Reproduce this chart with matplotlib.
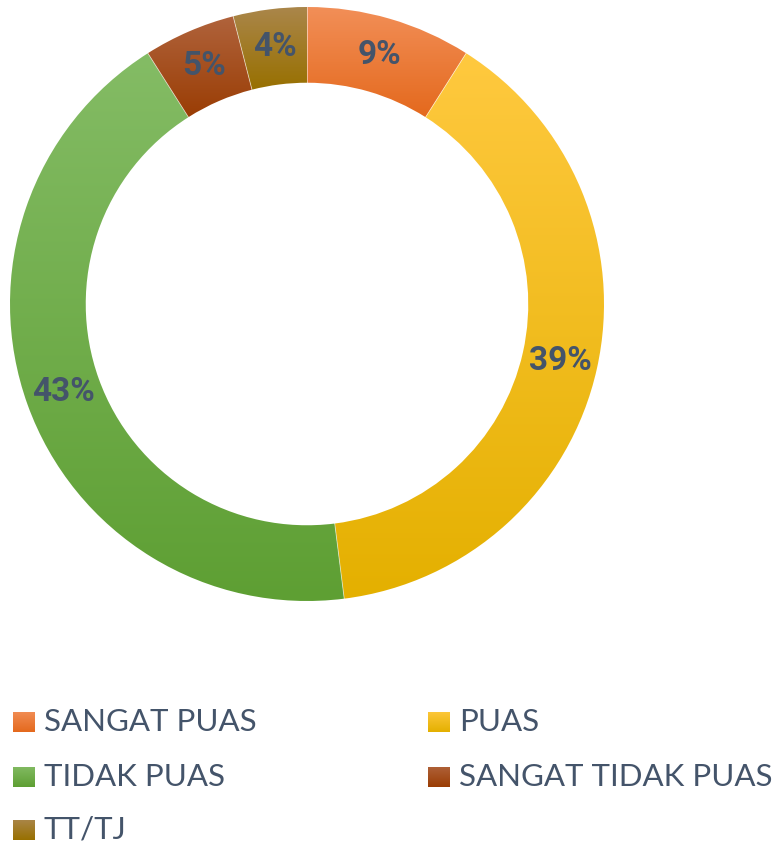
import numpy as np
import matplotlib.pyplot as plt
from matplotlib.patches import Wedge
from matplotlib.colors import LinearSegmentedColormap

labels = ['SANGAT PUAS', 'PUAS', 'TIDAK PUAS', 'SANGAT TIDAK PUAS', 'TT/TJ']
values = [9, 39, 43, 5, 4]
# gradient colours per slice: (top, bottom)
top_colors = ['#F28F58', '#FFC93F', '#84BC65', '#B0633C', '#AA864A']
bottom_colors = ['#E4691D', '#E4B000', '#5E9F33', '#9A3D04', '#987000']
text_color = '#44546A'

W, H = 779, 844
fig = plt.figure(figsize=(W / 100, H / 100), dpi=100)

# donut axes, square box
cx, cy, R = 307, 304, 297
ax = fig.add_axes([(cx - R) / W, 1 - (cy + R) / H, 2 * R / W, 2 * R / H])
ax.set_aspect('equal')
ax.axis('off')

inner = 0.745
width = 1 - inner
total = sum(values)
grad = np.linspace(0, 1, 256).reshape(-1, 1)
cmaps = [LinearSegmentedColormap.from_list('g%d' % i, [bottom_colors[i], top_colors[i]])
         for i in range(len(values))]

start = 90.0
for i, v in enumerate(values):
    span = 360.0 * v / total
    t2 = start
    t1 = start - span
    w = Wedge((0, 0), 1, t1, t2, width=width, facecolor='none', edgecolor='none')
    ax.add_patch(w)
    # bounding box of the ring segment for the gradient
    th = np.radians(np.linspace(t1, t2, 200))
    ys = np.concatenate([np.sin(th), inner * np.sin(th)])
    xs = np.concatenate([np.cos(th), inner * np.cos(th)])
    im = ax.imshow(grad, cmap=cmaps[i], origin='lower',
                   extent=[xs.min(), xs.max(), ys.min(), ys.max()],
                   aspect='auto', interpolation='bilinear', zorder=1)
    im.set_clip_path(w)
    # percentage label at middle of ring
    mid = np.radians((t1 + t2) / 2)
    r = (1 + inner) / 2
    ax.text(r * np.cos(mid), r * np.sin(mid), '%d%%' % v, ha='center', va='center',
            fontsize=24, fontweight='bold', color=text_color, family=['Roboto', 'DejaVu Sans'],
            zorder=3)
    start = t1

# thin white separators
start = 90.0
for v in values:
    th = np.radians(start)
    ax.plot([inner * np.cos(th), np.cos(th)], [inner * np.sin(th), np.sin(th)],
            color='white', lw=0.6, alpha=0.6, zorder=2)
    start -= 360.0 * v / total
ax.set_xlim(-1, 1)
ax.set_ylim(-1, 1)

# legend, two columns row by row
col_x = [13, 428]
row_y = [722, 777, 830]
for i, lab in enumerate(labels):
    px = col_x[i % 2]
    py = row_y[i // 2]
    sq = fig.add_axes([px / W, 1 - (py + 10.5) / H, 22 / W, 21 / H])
    sq.imshow(grad, cmap=cmaps[i], origin='lower', aspect='auto', interpolation='bilinear')
    sq.axis('off')
    fig.text((px + 31) / W, 1 - py / H, lab, ha='left', va='center', fontsize=22.5,
             color=text_color, family=['Lato', 'DejaVu Sans'])

fig.savefig('out.png', dpi=100, facecolor='white')
